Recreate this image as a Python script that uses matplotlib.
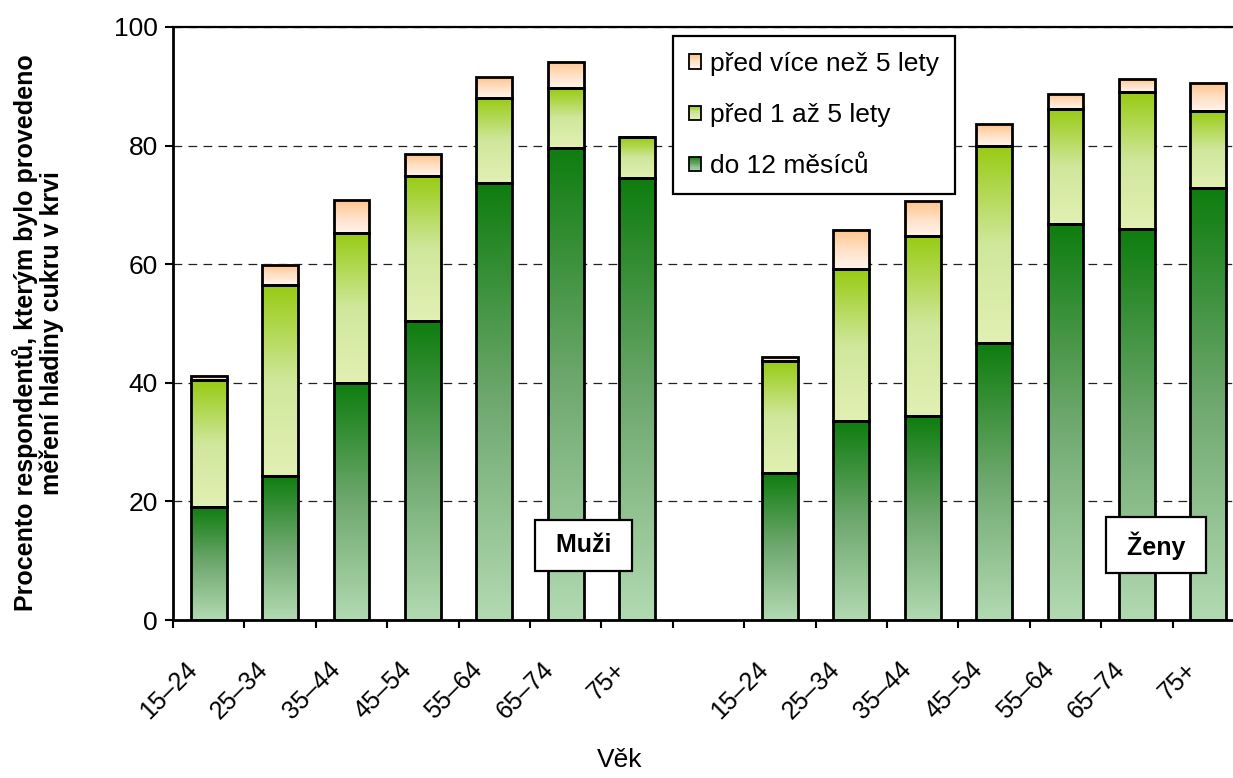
import numpy as np
import matplotlib.pyplot as plt
import matplotlib.transforms as mtransforms
from matplotlib.colors import LinearSegmentedColormap
from matplotlib.patches import Rectangle
from matplotlib.legend_handler import HandlerBase

plt.rcParams['font.family'] = ['Liberation Sans', 'DejaVu Sans']

# Age groups, shown once for men and once for women
age_groups = ["15–24", "25–34", "35–44", "45–54", "55–64", "65–74", "75+"]

# Share of respondents (%) by time since the last blood sugar test
men_12m = [19.1, 24.3, 40.0, 50.4, 73.7, 79.6, 74.5]
men_1to5 = [21.3, 32.2, 25.3, 24.5, 14.4, 10.1, 6.9]
men_over5 = [0.8, 3.4, 5.5, 3.7, 3.4, 4.4, 0.0]

women_12m = [24.8, 33.6, 34.4, 46.7, 66.8, 65.9, 72.8]
women_1to5 = [18.9, 25.6, 30.4, 33.3, 19.4, 23.1, 13.0]
women_over5 = [0.7, 6.6, 5.9, 3.6, 2.5, 2.2, 4.7]

series_labels = ["do 12 měsíců", "před 1 až 5 lety", "před více než 5 lety"]

# gradient colours per series, top of the segment first
cmap_12m = LinearSegmentedColormap.from_list("g12", ["#0e7d0e", "#6fa86f", "#b2dab2"])
cmap_1to5 = LinearSegmentedColormap.from_list("g15", ["#98cb12", "#cfe79b", "#e2f0b4"])
cmap_over5 = LinearSegmentedColormap.from_list("g5", ["#ffc48c", "#ffe0c4", "#fff4ec"])
cmaps = [cmap_12m, cmap_1to5, cmap_over5]


class GradientHandler(HandlerBase):
    """Legend key drawn as a small vertical gradient square."""

    def __init__(self, cmap):
        super().__init__()
        self.cmap = cmap

    def create_artists(self, legend, orig_handle, xdescent, ydescent,
                       width, height, fontsize, trans):
        n = 12
        h = height / n
        arts = []
        for k in range(n):
            arts.append(Rectangle((-xdescent, -ydescent + height - (k + 1) * h), width, h,
                                  facecolor=self.cmap((k + 0.5) / n), edgecolor='none',
                                  transform=trans))
        arts.append(Rectangle((-xdescent, -ydescent), width, height, facecolor='none',
                              edgecolor='black', lw=1.3, transform=trans))
        return arts


fig = plt.figure(figsize=(12.33, 7.78), dpi=100)
ax = fig.add_axes([173 / 1233, 1 - 620 / 778, 1071 / 1233, 593 / 778])

x_men = np.arange(len(age_groups))
x_women = x_men + len(age_groups) + 1
positions = np.concatenate([x_men, x_women])
lower = np.array(men_12m + women_12m)
middle = np.array(men_1to5 + women_1to5)
upper = np.array(men_over5 + women_over5)

bar_w = 0.5
grad = np.linspace(0, 1, 256).reshape(-1, 1)
bottoms = np.zeros(len(positions))
for seg, cmap in zip([lower, middle, upper], cmaps):
    for xp, b, v in zip(positions, bottoms, seg):
        if v <= 0:
            continue
        ax.imshow(grad, cmap=cmap, vmin=0, vmax=1, aspect='auto', origin='upper',
                  extent=(xp - bar_w / 2, xp + bar_w / 2, b, b + v), zorder=2,
                  interpolation='bilinear')
    ax.bar(positions, seg, bar_w, bottom=bottoms, facecolor='none',
           edgecolor='black', linewidth=2, zorder=3)
    bottoms = bottoms + seg

ax.set_xlim(-0.5, 14.5)
ax.set_ylim(0, 100)

# axis styling
ax.spines['left'].set_linewidth(2)
ax.spines['bottom'].set_linewidth(2)
ax.spines['top'].set_linewidth(1.6)
ax.spines['right'].set_linewidth(1.6)
ax.set_yticks(range(0, 101, 20))
ax.tick_params(axis='y', direction='out', length=6, width=1.5, labelsize=19, pad=5)
ax.yaxis.grid(True, linestyle=(0, (7, 5)), color='#222222', linewidth=0.9, zorder=0)
ax.set_axisbelow(True)

ax.set_xticks(np.arange(-0.5, 15, 1))
ax.set_xticklabels([])
ax.tick_params(axis='x', which='major', direction='out', length=6, width=1.5)
ax.set_xticks(positions, minor=True)
ax.set_xticklabels(age_groups + age_groups, minor=True, rotation=45,
                   ha='right', rotation_mode='anchor', fontsize=18)
ax.tick_params(axis='x', which='minor', length=0, pad=27)
shift = mtransforms.ScaledTranslation(-24 / 100, 0, fig.dpi_scale_trans)
for lbl in ax.get_xticklabels(minor=True):
    lbl.set_transform(lbl.get_transform() + shift)

fig.text(620 / 1233, 1 - 760 / 778, "Věk", fontsize=19, ha='center', va='center')
fig.text(38 / 1233, 1 - 333 / 778,
         "Procento respondentů, kterým bylo provedeno\nměření hladiny cukru v krvi",
         rotation=90, fontsize=18, fontweight='bold', ha='center', va='center',
         multialignment='center', linespacing=1.05)

for xt, name in [(5.25, " Muži "), (13.27, " Ženy ")]:
    ax.text(xt, 12.6, name, fontsize=18, fontweight='bold', ha='center', va='center',
            zorder=5, bbox=dict(boxstyle='square,pad=0.55', facecolor='white',
                                edgecolor='black', linewidth=1.6))

proxies = [Rectangle((0, 0), 1, 1) for _ in cmaps]
order = [2, 1, 0]
leg = ax.legend([proxies[i] for i in order], [series_labels[i] for i in order],
                handler_map={proxies[i]: GradientHandler(cmaps[i]) for i in range(3)},
                loc='upper left', bbox_to_anchor=(673 / 1233, 1 - 36 / 778),
                bbox_transform=fig.transFigure, borderaxespad=0, fontsize=19,
                frameon=True, fancybox=False, edgecolor='black', framealpha=1,
                handlelength=0.45, handleheight=0.45, handletextpad=0.35,
                labelspacing=1.03, borderpad=0.6)
leg.get_frame().set_linewidth(1.6)
leg.set_zorder(6)

fig.savefig("out.png", dpi=100)
